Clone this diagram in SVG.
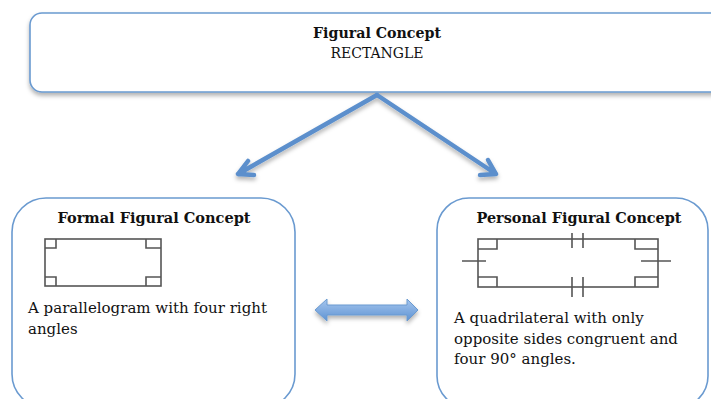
<svg xmlns="http://www.w3.org/2000/svg" width="711" height="399" viewBox="0 0 711 399">
<style>
.box{fill:#fff;stroke:#6a9ad0;stroke-width:1.6}
.t{font-family:"DejaVu Serif","Liberation Serif",serif;font-size:15px;fill:#111}
.b{font-weight:bold}
.fig{fill:none;stroke:#555;stroke-width:1.6}
.conn{fill:none;stroke:#5b8fcc;stroke-width:4.5;stroke-linecap:round;stroke-linejoin:round}
</style>
<defs>
<filter id="sh" x="-10%" y="-10%" width="120%" height="130%">
<feDropShadow dx="0" dy="3" stdDeviation="2" flood-color="#000" flood-opacity="0.3"/>
</filter>
<linearGradient id="g" x1="0" y1="0" x2="0" y2="1">
<stop offset="0" stop-color="#a6c6ee"/>
<stop offset="1" stop-color="#5e93d3"/>
</linearGradient>
</defs>
<rect width="711" height="399" fill="#fff"/>
<g id="top">
<rect class="box" x="30" y="13" width="700" height="79" rx="12" filter="url(#sh)"/>
<text class="t b" x="377" y="38" text-anchor="middle" textLength="128" lengthAdjust="spacingAndGlyphs">Figural Concept</text>
<text class="t" x="377" y="58" text-anchor="middle" textLength="93" lengthAdjust="spacingAndGlyphs">RECTANGLE</text>
</g>
<g id="connectors">
<g filter="url(#sh)">
<path class="conn" d="M377 95 L238 174 M238 174 L248 161 M238 174 L254 175"/>
<path class="conn" d="M377 95 L496 174 M496 174 L480 175 M496 174 L488 160"/>
<path d="M315 310 L327 299 L327 305 L407 305 L407 299 L418 310 L407 321 L407 315 L327 315 L327 321 Z" fill="url(#g)" stroke="#6a9ad0" stroke-width="1"/>
</g>
</g>
<g id="formal">
<rect class="box" x="12" y="198" width="283" height="210" rx="34"/>
<text class="t b" x="154" y="223" text-anchor="middle" textLength="193" lengthAdjust="spacingAndGlyphs">Formal Figural Concept</text>
<rect class="fig" x="45" y="239" width="116" height="47"/>
<path class="fig" d="M45 248 H56 V239 M146 239 V248 H161 M45 277 H56 V286 M146 286 V277 H161"/>
<text class="t" x="28" y="313" textLength="239" lengthAdjust="spacingAndGlyphs">A parallelogram with four right</text>
<text class="t" x="28" y="334">angles</text>
</g>
<g id="personal">
<rect class="box" x="437" y="198" width="271" height="210" rx="32"/>
<text class="t b" x="579" y="223" text-anchor="middle" textLength="205" lengthAdjust="spacingAndGlyphs">Personal Figural Concept</text>
<rect class="fig" x="478" y="239" width="180" height="48"/>
<path class="fig" d="M478 249 H497 V239 M635 239 V249 H658 M478 277 H497 V287 M635 287 V277 H658"/>
<path class="fig" d="M462 261 H486 M641 261 H671 M572 233 V248 M583 233 V248 M572 277 V297 M583 277 V297"/>
<text class="t" x="454" y="323">A quadrilateral with only</text>
<text class="t" x="454" y="344">opposite sides congruent and</text>
<text class="t" x="454" y="364">four 90° angles.</text>
</g>
</svg>
